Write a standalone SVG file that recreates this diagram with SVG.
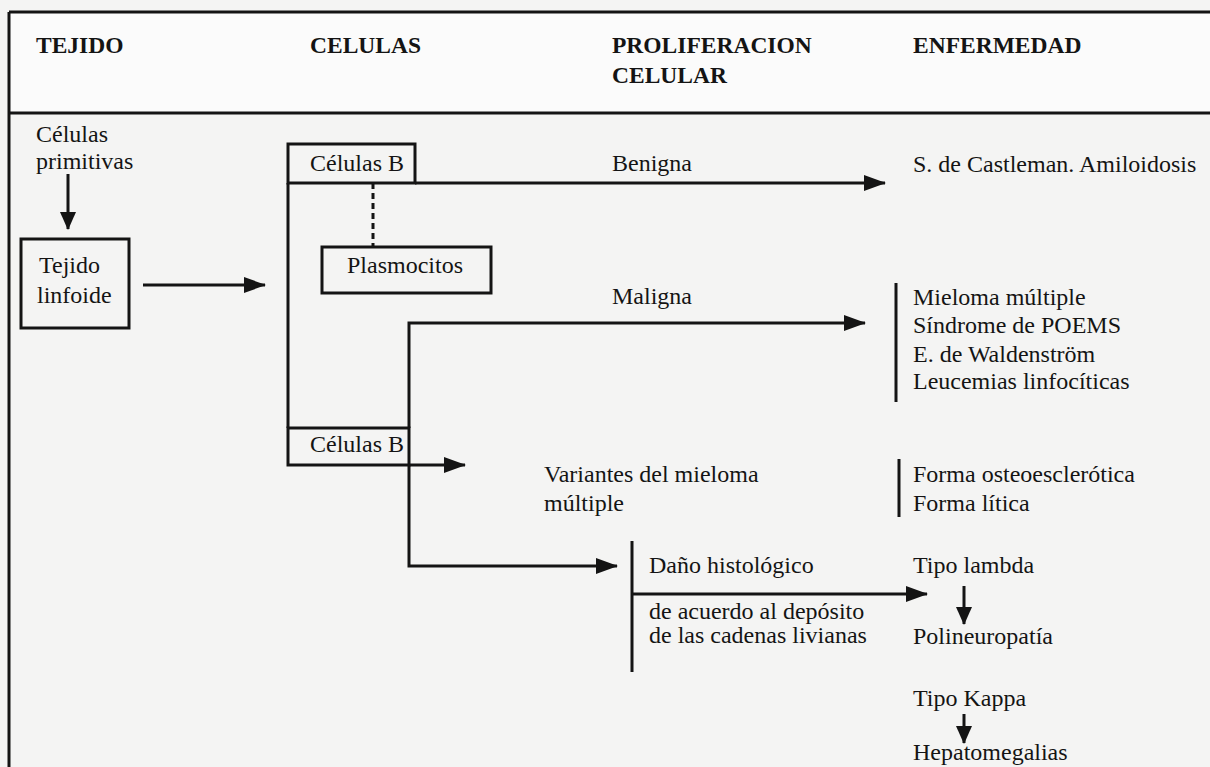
<svg xmlns="http://www.w3.org/2000/svg" width="1210" height="767" viewBox="0 0 1210 767">
<style>
.t{font-family:"Liberation Serif","Times New Roman",serif;font-size:24px;fill:#141414}
.h{font-family:"Liberation Serif","Times New Roman",serif;font-size:23.5px;font-weight:bold;fill:#141414}
.ln{stroke:#141414;stroke-width:3;fill:none}
.box{stroke:#141414;stroke-width:3;fill:none}
</style>
<defs>
<marker id="ah" viewBox="0 0 22 16" refX="21" refY="8" markerWidth="22" markerHeight="16" markerUnits="userSpaceOnUse" orient="auto">
<path d="M0,0 L22,8 L0,16 z" fill="#141414"/>
</marker>
<marker id="ahs" viewBox="0 0 18 16" refX="17" refY="8" markerWidth="18" markerHeight="16" markerUnits="userSpaceOnUse" orient="auto">
<path d="M0,0 L18,8 L0,16 z" fill="#141414"/>
</marker>
</defs>
<rect x="0" y="0" width="1210" height="767" fill="#f4f4f3"/>
<rect x="9" y="12" width="1201" height="101" fill="#fbfbfb"/>
<g id="frame">
<line class="ln" x1="9" y1="12" x2="1210" y2="12"/>
<line class="ln" x1="9" y1="113" x2="1210" y2="113"/>
<line class="ln" x1="9" y1="12" x2="9" y2="767"/>
</g>
<g id="header">
<text class="h" x="36" y="53">TEJIDO</text>
<text class="h" x="310" y="53">CELULAS</text>
<text class="h" x="612" y="53">PROLIFERACION</text>
<text class="h" x="612" y="83">CELULAR</text>
<text class="h" x="913" y="53">ENFERMEDAD</text>
</g>
<g id="celulas-primitivas">
<text class="t" x="36" y="142">Células</text>
<text class="t" x="36" y="169">primitivas</text>
</g>
<g id="tejido-linfoide">
<rect class="box" x="21" y="239" width="108" height="89"/>
<text class="t" x="39" y="273">Tejido</text>
<text class="t" x="37" y="303">linfoide</text>
</g>
<g id="celulas-b-1">
<rect class="box" x="288" y="144" width="127" height="39"/>
<text class="t" x="310" y="171">Células B</text>
</g>
<g id="plasmocitos">
<rect class="box" x="322" y="247" width="169" height="46"/>
<text class="t" x="347" y="273">Plasmocitos</text>
</g>
<g id="celulas-b-2">
<rect class="box" x="288" y="428" width="121" height="37"/>
<text class="t" x="310" y="452">Células B</text>
</g>
<g id="benigna"><text class="t" x="612" y="171">Benigna</text></g>
<g id="maligna"><text class="t" x="612" y="304">Maligna</text></g>
<g id="variantes">
<text class="t" x="544" y="482">Variantes del mieloma</text>
<text class="t" x="544" y="511">múltiple</text>
</g>
<g id="dano">
<line class="ln" x1="632" y1="541" x2="632" y2="672"/>
<text class="t" x="649" y="573">Daño histológico</text>
<text class="t" x="649" y="619">de acuerdo al depósito</text>
<text class="t" x="649" y="643">de las cadenas livianas</text>
</g>
<g id="castleman"><text class="t" x="913" y="172">S. de Castleman. Amiloidosis</text></g>
<g id="malignas-enf">
<line class="ln" x1="896" y1="283" x2="896" y2="402"/>
<text class="t" x="913" y="305">Mieloma múltiple</text>
<text class="t" x="913" y="333">Síndrome de POEMS</text>
<text class="t" x="913" y="362">E. de Waldenström</text>
<text class="t" x="913" y="389">Leucemias linfocíticas</text>
</g>
<g id="formas">
<line class="ln" x1="899" y1="459" x2="899" y2="517"/>
<text class="t" x="913" y="482">Forma osteoesclerótica</text>
<text class="t" x="913" y="511">Forma lítica</text>
</g>
<g id="lambda">
<text class="t" x="913" y="573">Tipo lambda</text>
<text class="t" x="913" y="644">Polineuropatía</text>
</g>
<g id="kappa">
<text class="t" x="913" y="706">Tipo Kappa</text>
<text class="t" x="913" y="760">Hepatomegalias</text>
</g>
<g id="connectors">
<line class="ln" x1="68" y1="174" x2="68" y2="229" marker-end="url(#ahs)"/>
<line class="ln" x1="143" y1="285" x2="265" y2="285" marker-end="url(#ah)"/>
<line class="ln" x1="288" y1="183" x2="288" y2="428"/>
<line class="ln" x1="415" y1="183" x2="885" y2="183" marker-end="url(#ah)"/>
<line class="ln" x1="373" y1="183" x2="373" y2="247" stroke-dasharray="6 4"/>
<path class="ln" d="M409,428 L409,323 L865,323" marker-end="url(#ah)"/>
<line class="ln" x1="409" y1="465" x2="465" y2="465" marker-end="url(#ah)"/>
<path class="ln" d="M409,465 L409,566 L617,566" marker-end="url(#ah)"/>
<line class="ln" x1="632" y1="594" x2="927" y2="594" marker-end="url(#ah)"/>
<line class="ln" x1="964" y1="586" x2="964" y2="624" marker-end="url(#ahs)"/>
<line class="ln" x1="964" y1="714" x2="964" y2="743" marker-end="url(#ahs)"/>
</g>
</svg>
